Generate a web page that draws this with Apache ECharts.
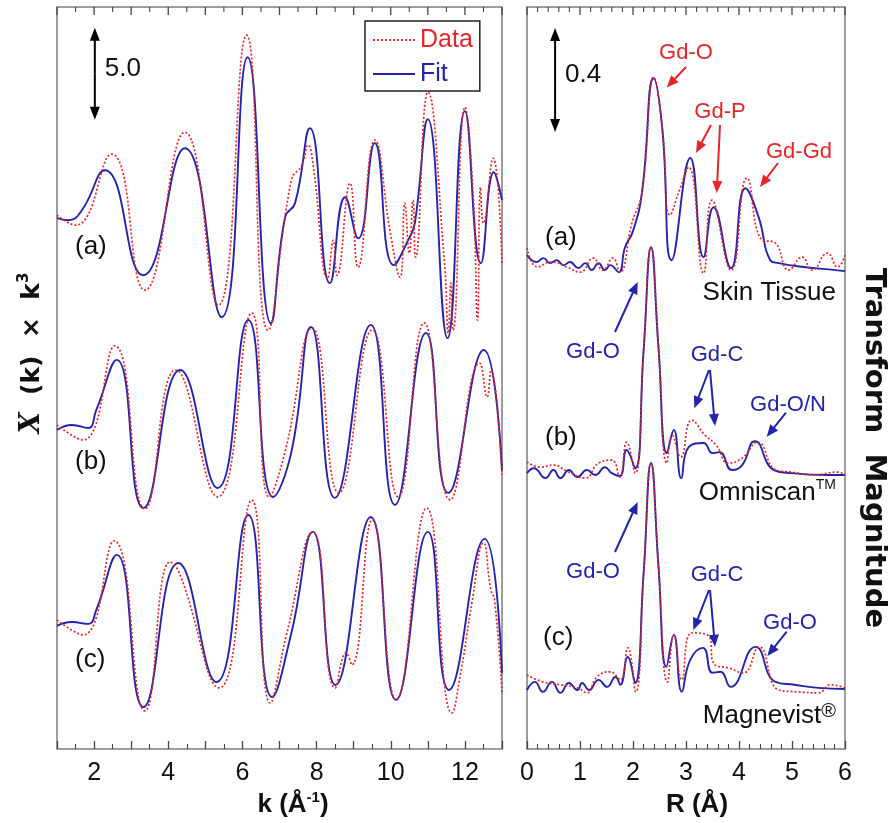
<!DOCTYPE html>
<html>
<head>
<meta charset="utf-8">
<script src="https://cdn.jsdelivr.net/npm/echarts@6/dist/echarts.min.js"></script>
<style>html,body{margin:0;padding:0;background:#fff}#c{width:891px;height:823px}</style>
</head>
<body>
<div id="c"></div>
<script>
// ---------- Left panel: k-space EXAFS, chi(k)*k^3, each trace relative to its own baseline ----------
const kFitA = [[1.0,0],[1.3,-0.11],[1.67,0.43],[2.29,2.61],[3.32,-3.10],[4.45,3.80],[5.44,-5.38],[6.14,8.75],[6.77,-5.71],[7.15,0.05],[7.42,0.82],[7.82,4.89],[8.36,-3.53],[8.77,1.14],[9.12,-1.09],[9.57,4.08],[10.08,-2.55],[10.51,-1.03],[10.65,-0.27],[11.0,5.38],[11.53,-6.52],[12.0,5.82],[12.43,-2.45],[12.78,2.5],[13.0,0.98]];
const kDataA = [[1.0,0.16],[1.5,-0.38],[2.47,3.48],[3.37,-3.91],[4.45,4.67],[5.35,-4.73],[6.11,9.95],[6.69,-6.09],[7.32,2.07],[7.6,2.88],[7.77,3.97],[7.9,2.99],[8.3,-3.26],[8.45,-1.2],[8.55,-3.1],[8.9,1.9],[9.12,-2.66],[9.57,4.24],[10.0,-0.92],[10.25,-3.21],[10.38,0.82],[10.5,-1.9],[10.6,0.98],[10.67,-2.12],[11.0,6.85],[11.45,-2.45],[11.55,-6.25],[11.62,-3.53],[11.68,-6.09],[12.0,6.03],[12.22,1.36],[12.34,-5.54],[12.42,1.68],[12.5,-0.27],[12.76,3.26],[13.0,-2.45]];
const kFitB = [[1.0,-0.11],[1.4,0.16],[1.84,0],[2.06,0.98],[2.61,3.70],[3.33,-4.35],[4.32,3.15],[5.33,-3.26],[6.16,5.87],[6.83,-3.75],[7.32,-1.30],[7.85,5.49],[8.49,-3.80],[9.46,5.60],[10.11,-4.18],[10.95,5.16],[11.55,-3.53],[12.51,4.24],[13.0,-2.28]];
const kDataB = [[1.0,0.16],[1.7,-0.65],[2.56,4.46],[3.37,-4.40],[4.2,3.15],[5.33,-3.75],[6.25,6.25],[6.72,-3.75],[7.15,-1.3],[7.88,5.43],[8.6,-3.53],[9.5,5.33],[10.2,-3.75],[10.9,5.71],[11.6,-3.91],[12.4,3.53],[12.6,1.68],[12.7,3.15],[13.0,-2.55]];
const kFitC = [[1.0,-0.16],[1.4,0.05],[1.84,-0.05],[2.06,0.71],[2.61,3.70],[3.33,-4.57],[4.27,3.26],[5.3,-3.21],[6.16,5.87],[6.8,-4.02],[7.32,-0.54],[7.9,4.95],[8.51,-3.37],[9.46,5.76],[10.14,-4.18],[11.0,4.95],[11.57,-3.64],[12.53,4.57],[13.0,-2.72]];
const kDataC = [[1.0,0.16],[1.7,-0.65],[2.54,4.46],[3.37,-4.78],[4.05,3.32],[4.3,2.72],[5.38,-3.53],[6.25,6.68],[6.75,-4.35],[7.2,-0.54],[7.9,4.95],[8.5,-3.53],[8.8,-1.63],[8.95,-2.28],[9.5,5.60],[10.15,-4.18],[10.97,6.25],[11.65,-4.89],[11.9,-2.55],[12.2,1.25],[12.5,4.35],[12.7,1.79],[12.8,1.25],[13.0,-3.80]];
const kOffsets = [22.0, 10.6, 0.0];          // vertical offsets of traces (a), (b), (c)
const kTickLabels = [2, 4, 6, 8, 10, 12];

// ---------- Right panel: Fourier transform magnitude ----------
const rFitA = [[0.0,0.058],[0.18,0.031],[0.31,0.046],[0.43,0.027],[0.56,0.038],[0.69,0.019],[0.81,0.031],[0.97,0.008],[1.10,0.027],[1.22,0],[1.35,0.027],[1.47,0],[1.57,0.019],[1.73,-0.008],[1.85,0.088],[2.0,0.15],[2.17,0.3],[2.39,0.738],[2.55,0.55],[2.73,0.038],[3.08,0.431],[3.33,0.05],[3.52,0.242],[3.85,0.008],[4.12,0.315],[4.37,0.204],[4.59,0.038],[4.75,0.027],[5.22,0.012],[5.82,0],[6.0,-0.004]];
const rDataA = [[0.0,0.085],[0.2,0.012],[0.45,0.031],[0.75,0.012],[1.0,-0.008],[1.25,0.046],[1.43,0],[1.62,0.046],[1.75,-0.008],[1.98,0.181],[2.17,0.3],[2.39,0.742],[2.55,0.55],[2.70,0.212],[2.89,0.315],[3.05,0.396],[3.33,-0.012],[3.49,0.269],[3.85,0],[4.15,0.354],[4.44,0.115],[4.66,0.108],[4.94,0],[5.19,0.05],[5.38,0],[5.67,0.065],[5.86,0.012],[6.0,0.058]];
const rFitB = [[0.0,0.019],[0.13,0.038],[0.35,0],[0.5,0.031],[0.63,0],[0.79,0.031],[0.95,0.004],[1.13,0.031],[1.29,0.012],[1.47,0.042],[1.6,0.019],[1.75,0.008],[1.88,0.108],[2.04,0.038],[2.2,0.49],[2.34,0.888],[2.48,0.504],[2.64,0.096],[2.77,0.185],[2.91,0],[3.05,0.119],[3.33,0.135],[3.5,0.096],[3.63,0.1],[3.87,0.031],[4.06,0.05],[4.3,0.142],[4.66,0.031],[5.0,0.019],[5.65,0.012],[6.0,0.012]];
const rDataB = [[0.0,0.062],[0.25,0.042],[0.5,0.05],[0.75,0.027],[1.1,0],[1.35,0.058],[1.6,0.069],[1.75,0.004],[1.88,0.138],[2.04,0.019],[2.2,0.49],[2.34,0.888],[2.48,0.504],[2.64,0.058],[2.74,0.165],[2.9,0.081],[3.11,0.223],[3.36,0.165],[3.57,0.127],[3.8,0.058],[4.06,0.077],[4.35,0.138],[4.7,0.031],[5.0,0.023],[5.4,0.012],[5.85,0.023],[6.0,0.012]];
const rFitC = [[0.0,-0.008],[0.15,0.023],[0.3,-0.015],[0.47,0.023],[0.63,-0.019],[0.79,0.019],[0.95,-0.008],[1.04,0.019],[1.17,-0.008],[1.35,0.031],[1.51,0.004],[1.67,0.042],[1.76,0.012],[1.9,0.119],[2.04,0.019],[2.2,0.44],[2.34,0.865],[2.48,0.47],[2.63,0.081],[2.77,0.204],[2.92,-0.015],[3.08,0.108],[3.32,0.154],[3.5,0.058],[3.65,0.062],[3.84,0.004],[4.31,0.158],[4.69,0.023],[5.05,0.012],[5.5,0],[6.0,-0.004]];
const rDataC = [[0.0,0.05],[0.3,0.023],[0.63,0.012],[0.95,0],[1.13,-0.019],[1.32,0.042],[1.57,0.062],[1.76,0.031],[1.9,0.154],[2.05,-0.015],[2.2,0.44],[2.34,0.865],[2.48,0.47],[2.65,0.023],[2.77,0.204],[2.92,0.031],[3.11,0.212],[3.4,0.204],[3.55,0.088],[3.8,0.077],[4.08,0.058],[4.38,0.158],[4.75,-0.008],[5.1,-0.015],[5.5,-0.019],[5.73,0.012],[6.0,0]];
const rOffsets = [1.842, 1.042, 0.235];

// scale bars (in data units)
const kScaleBar = {x: 2.02, y0: 27.35, len: 5.0, label: '5.0'};
const rScaleBar = {x: 0.53, y0: 2.373, len: 0.4, label: '0.4'};

const RED = '#e3262b', BLUE = '#2424a8', FONT = 'Liberation Sans, Arial, Helvetica, sans-serif';
const K_RANGE = [1, 13], R_RANGE = [0, 6], KY = [-6.85, 33.48], RY = [0, 2.854];

function mk(name, arr, off, xi, yi) {
  const dotted = name === 'Data';
  const color = dotted ? RED : BLUE;
  return {
    name, type: 'line', xAxisIndex: xi, yAxisIndex: yi,
    data: arr.map(p => [p[0], +(p[1] + off).toFixed(4)]),
    smooth: 0.5, symbol: 'none', showSymbol: false, silent: true,
    lineStyle: {color, width: dotted ? 1.7 : 1.9, type: dotted ? [2, 2] : 'solid'},
    itemStyle: {color}, z: dotted ? 3 : 2
  };
}

const series = [
  mk('Fit', kFitA, kOffsets[0], 0, 0), mk('Data', kDataA, kOffsets[0], 0, 0),
  mk('Fit', kFitB, kOffsets[1], 0, 0), mk('Data', kDataB, kOffsets[1], 0, 0),
  mk('Fit', kFitC, kOffsets[2], 0, 0), mk('Data', kDataC, kOffsets[2], 0, 0),
  mk('Fit', rFitA, rOffsets[0], 1, 1), mk('Data', rDataA, rOffsets[0], 1, 1),
  mk('Fit', rFitB, rOffsets[1], 1, 1), mk('Data', rDataB, rOffsets[1], 1, 1),
  mk('Fit', rFitC, rOffsets[2], 1, 1), mk('Data', rDataC, rOffsets[2], 1, 1)
];

function xAx(grid, range, split, fmt) {
  return {
    type: 'value', gridIndex: grid, min: range[0], max: range[1], interval: 1, position: 'bottom',
    axisLine: {show: false, onZero: false}, splitLine: {show: false},
    axisTick: {show: true, inside: true, length: 8, lineStyle: {color: '#444', width: 1.3}},
    minorTick: {show: true, splitNumber: split, length: 5, lineStyle: {color: '#444', width: 1.1}},
    axisLabel: {show: true, fontSize: 25, color: '#111', fontFamily: FONT, margin: 12,
      showMinLabel: true, showMaxLabel: true, formatter: fmt}
  };
}

const chart = echarts.init(document.getElementById('c'), null, {renderer: 'canvas'});
const option = {
  animation: false,
  backgroundColor: '#fff',
  grid: [
    {left: 57, right: 389, top: 7, bottom: 74, show: true, borderColor: '#7d7d7d', borderWidth: 1.5, outerBoundsMode: 'none', containLabel: false},
    {left: 527, right: 46, top: 7, bottom: 74, show: true, borderColor: '#7d7d7d', borderWidth: 1.5, outerBoundsMode: 'none', containLabel: false}
  ],
  xAxis: [
    xAx(0, K_RANGE, 2, v => (kTickLabels.indexOf(v) >= 0 ? String(v) : '')),
    xAx(1, R_RANGE, 5, v => String(v))
  ],
  yAxis: [
    {type: 'value', gridIndex: 0, min: KY[0], max: KY[1], show: false},
    {type: 'value', gridIndex: 1, min: RY[0], max: RY[1], show: false}
  ],
  legend: {
    data: [{name: 'Data', textStyle: {color: RED}}, {name: 'Fit', textStyle: {color: BLUE}}],
    orient: 'vertical', left: 365, top: 21, itemWidth: 42, itemHeight: 2, itemGap: 6,
    padding: [5, 7, 3, 7], borderColor: '#222', borderWidth: 1.5, selectedMode: false,
    itemStyle: {color: 'rgba(0,0,0,0)', borderColor: 'rgba(0,0,0,0)', borderWidth: 0, opacity: 0},
    textStyle: {fontSize: 25, fontFamily: FONT, lineHeight: 28}, backgroundColor: '#fff'
  },
  series
};
chart.setOption(option);

// ---------- annotations ----------
function arrowEls(x1, y1, x2, y2, color, lw, hl, hw) {
  const dx = x2 - x1, dy = y2 - y1, L = Math.hypot(dx, dy), ux = dx / L, uy = dy / L;
  const bx = x2 - ux * hl, by = y2 - uy * hl, px = -uy, py = ux;
  return [
    {type: 'line', silent: true, z: 50, shape: {x1, y1, x2: bx + ux * 1, y2: by + uy * 1}, style: {stroke: color, lineWidth: lw}},
    {type: 'polygon', silent: true, z: 50, shape: {points: [[x2, y2], [bx + px * hw / 2, by + py * hw / 2], [bx - px * hw / 2, by - py * hw / 2]]}, style: {fill: color}}
  ];
}
function txt(x, y, text, o) {
  o = o || {};
  return {type: 'text', x, y, rotation: o.rot || 0, silent: true, z: 60,
    style: {text, fill: o.color || '#111', fontSize: o.size || 25, fontFamily: o.family || FONT,
      fontWeight: o.weight || 'normal', align: o.align || 'center', verticalAlign: 'middle', rich: o.rich}};
}
function scaleBar(grid, b) {
  const p0 = chart.convertToPixel({gridIndex: grid}, [b.x, b.y0]);
  const p1 = chart.convertToPixel({gridIndex: grid}, [b.x, b.y0 + b.len]);
  const my = (p0[1] + p1[1]) / 2;
  return [].concat(
    arrowEls(p0[0], my, p0[0], p1[1], '#000', 2, 13, 10),
    arrowEls(p0[0], my, p0[0], p0[1], '#000', 2, 13, 10),
    [txt(p0[0] + 10, my - 5, b.label, {align: 'left', size: 26})]
  );
}
// mirrored tick marks along the top frame, placed through the axis scale
function topTicks(grid, range, yTop, split) {
  const out = [], step = 1 / split, n = Math.round((range[1] - range[0]) * split);
  for (let i = 0; i <= n; i++) {
    const v = range[0] + i * step;
    const p = chart.convertToPixel({gridIndex: grid}, [v, yTop]);
    const len = (i % split === 0) ? 8 : 5;
    out.push({type: 'line', silent: true, z: 40, shape: {x1: p[0], y1: p[1], x2: p[0], y2: p[1] + len},
      style: {stroke: '#444', lineWidth: (i % split === 0) ? 1.3 : 1.1}});
  }
  return out;
}

const els = [];
els.push(...topTicks(0, K_RANGE, KY[1], 2), ...topTicks(1, R_RANGE, RY[1], 5));
els.push(...scaleBar(0, kScaleBar), ...scaleBar(1, rScaleBar));

// trace labels
els.push(txt(75, 247, '(a)', {align: 'left', size: 26}), txt(75, 462, '(b)', {align: 'left', size: 26}), txt(75, 660, '(c)', {align: 'left', size: 26}));
els.push(txt(545, 238, '(a)', {align: 'left', size: 26}), txt(545, 438, '(b)', {align: 'left', size: 26}), txt(543, 638, '(c)', {align: 'left', size: 26}));

// sample names
els.push(txt(836, 293, 'Skin Tissue', {align: 'right', size: 26}));
els.push(txt(836, 493, '{m|Omniscan}{s|TM}', {align: 'right', rich: {m: {fontSize: 26, fontFamily: FONT, color: '#111', lineHeight: 30}, s: {fontSize: 14, fontFamily: FONT, color: '#111', verticalAlign: 'top', lineHeight: 16}}}));
els.push(txt(836, 716, '{m|Magnevist}{s|®}', {align: 'right', rich: {m: {fontSize: 26, fontFamily: FONT, color: '#111', lineHeight: 30}, s: {fontSize: 20, fontFamily: FONT, color: '#111', verticalAlign: 'top', lineHeight: 20}}}));

// red peak labels and arrows (skin tissue)
els.push(txt(686, 53, 'Gd-O', {color: RED, size: 22}), txt(720, 112, 'Gd-P', {color: RED, size: 22}), txt(799, 152, 'Gd-Gd', {color: RED, size: 22}));
els.push(...arrowEls(686, 67, 666.7, 87.5, RED, 2, 12, 10));
els.push(...arrowEls(711, 125, 696, 153, RED, 2, 12, 10));
els.push(...arrowEls(720, 125, 716.7, 193, RED, 2, 12, 10));
els.push(...arrowEls(778, 163, 760, 187, RED, 2, 12, 10));

// blue labels (b)
els.push(txt(593, 352, 'Gd-O', {color: BLUE, size: 22}), txt(717, 355, 'Gd-C', {color: BLUE, size: 22}), txt(788, 405, 'Gd-O/N', {color: BLUE, size: 22}));
els.push(...arrowEls(615, 332, 637.7, 282, BLUE, 2, 12, 10));
els.push(...arrowEls(709, 370, 694.3, 408.3, BLUE, 2, 12, 10));
els.push(...arrowEls(710, 370, 715, 426, BLUE, 2, 12, 10));
els.push(...arrowEls(786, 412.7, 766.7, 436.7, BLUE, 2, 12, 10));
// blue labels (c)
els.push(txt(593, 572, 'Gd-O', {color: BLUE, size: 22}), txt(717, 575, 'Gd-C', {color: BLUE, size: 22}), txt(790, 623, 'Gd-O', {color: BLUE, size: 22}));
els.push(...arrowEls(615, 552, 637.7, 502, BLUE, 2, 12, 10));
els.push(...arrowEls(709, 590, 693.3, 630, BLUE, 2, 12, 10));
els.push(...arrowEls(710, 590, 715, 646.7, BLUE, 2, 12, 10));
els.push(...arrowEls(786.7, 631.7, 767.3, 656, BLUE, 2, 12, 10));

// axis titles
const bold = {fontWeight: 'bold', fontFamily: FONT, color: '#111'};
els.push(txt(293, 805, '{a|k (Å}{s|-1}{a|)}', {rich: {a: Object.assign({fontSize: 26, lineHeight: 30}, bold), s: Object.assign({fontSize: 15, lineHeight: 16, verticalAlign: 'top'}, bold)}}));
els.push(txt(697, 805, 'R (Å)', {size: 26, weight: 'bold'}));
els.push(txt(32, 353, '{x|X}{a|  (k)  ×  k}{s|3}', {rot: Math.PI / 2, rich: {
  x: {fontSize: 27, fontStyle: 'italic', fontWeight: 'bold', fontFamily: 'DejaVu Serif, serif', color: '#111', lineHeight: 30},
  a: {fontSize: 25, fontWeight: 'bold', fontFamily: 'DejaVu Sans, sans-serif', color: '#111', lineHeight: 30},
  s: {fontSize: 15, fontWeight: 'bold', fontFamily: 'DejaVu Sans, sans-serif', color: '#111', lineHeight: 16, verticalAlign: 'top'}}}));
els.push(txt(874, 448, 'Transform  Magnitude', {rot: -Math.PI / 2, size: 29, weight: 'bold', family: 'DejaVu Sans, sans-serif'}));

chart.setOption({graphic: {elements: els}});
</script>
</body>
</html>
